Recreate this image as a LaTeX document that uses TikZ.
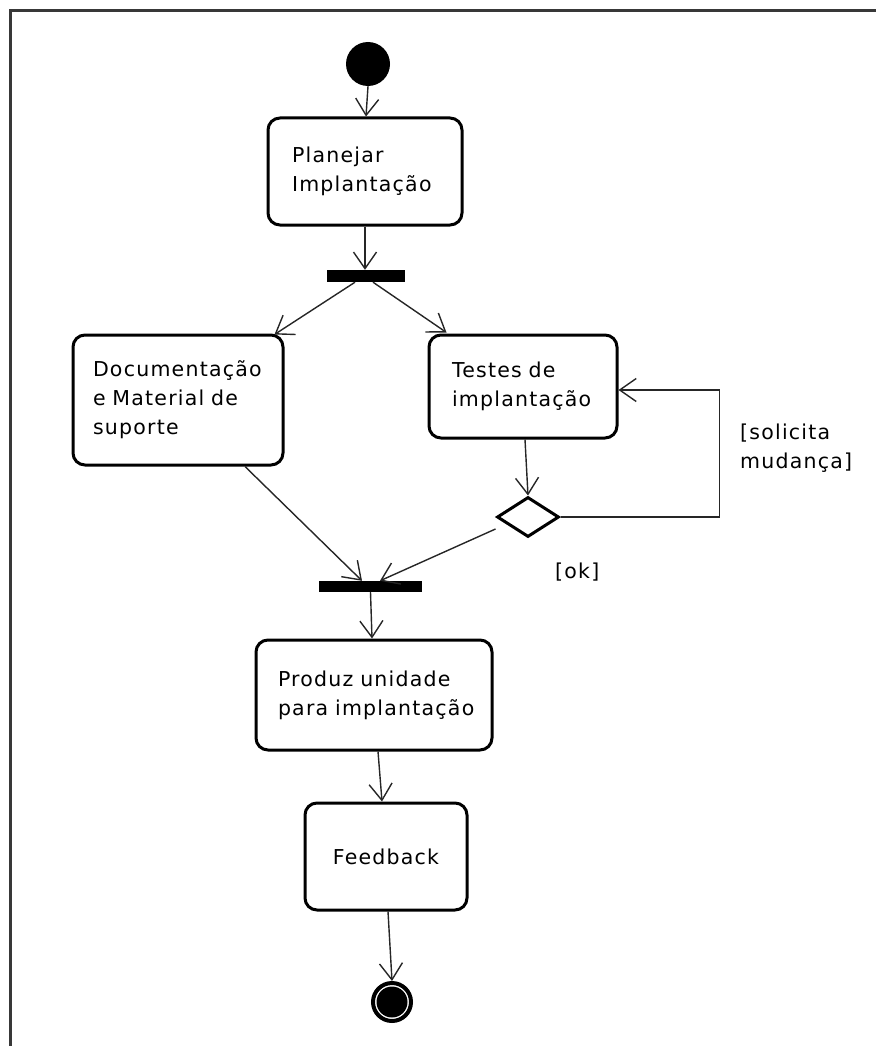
\documentclass[tikz,border=0pt]{standalone}
\usepackage{fontspec}
\setmainfont{DejaVu Sans}[LetterSpace=6]
\usetikzlibrary{arrows.meta,shapes.geometric}
\newcommand{\labelfont}{\fontsize{20.5}{29}\selectfont\hyphenpenalty=10000\exhyphenpenalty=10000\hbadness=10000\hfuzz=40pt}
\begin{document}
\begin{tikzpicture}[x=1pt,y=-1pt,
  activity/.style={draw, line width=3pt, rounded corners=12pt, align=left,
    inner ysep=0pt, font=\labelfont},
  bar/.style={fill=black, draw=none, inner sep=0pt},
  flow/.style={line width=1.4pt, draw=black!85,
    -{Straight Barb[length=16.5pt, width=23pt, line width=1.4pt]}},
  guard/.style={anchor=west, align=left, inner sep=0pt, font=\labelfont}]
  \useasboundingbox (0,0) rectangle (876,1046);
  % frame
  \draw[line width=3pt, black!78] (10,1046) -- (10,11) -- (876,11);

  % nodes
  \node[circle, fill=black, minimum size=44pt, inner sep=0pt] (start) at (368,64) {};
  \node[activity, minimum height=107pt, text width=146pt, inner xsep=24pt] (plan) at (365,171.5)
    {Planejar\\Implantação};
  \node[bar, minimum width=78pt, minimum height=12pt] (fork) at (366,276) {};
  \node[activity, minimum height=130pt, text width=170pt, inner xsep=20pt] (doc) at (178,400)
    {Documentação\\e Material de\\suporte};
  \node[activity, minimum height=103pt, text width=142pt, inner xsep=23pt] (test) at (523,386.5)
    {Testes de\\implantação};
  \node[diamond, draw, line width=3pt, minimum width=62pt, minimum height=40pt, inner sep=0pt] (dec) at (528,517) {};
  \node[bar, minimum width=103pt, minimum height=11pt] (join) at (370.5,586.5) {};
  \node[activity, minimum height=110pt, text width=192pt, inner xsep=22pt] (prod) at (374,695)
    {\mbox{Produz unidade}\\\mbox{para implantação}};
  \node[activity, minimum height=107pt, text width=162pt, inner xsep=0pt, align=center] (feed) at (386,856.5)
    {Feedback};
  \node[circle, draw, line width=4pt, minimum size=38pt, inner sep=0pt] (end) at (392,1002) {};
  \fill (end.center) circle (15.5);

  % guards
  \node[guard] (gchange) at (740,448) {[solicita\\mudança]};
  \node[guard] (gok) at (555,572) {[ok]};

  % connectors
  \draw[flow] (start.south) -- ([xshift=1pt]plan.north);
  \draw[flow] (plan.south) -- (plan.south |- fork.north);
  \draw[flow] ([xshift=-11pt]fork.south) -- ([xshift=-10pt, yshift=-1pt]doc.north east);
  \draw[flow] ([xshift=7pt]fork.south) -- ([xshift=19pt, yshift=1pt]test.north west);
  \draw[flow] ([xshift=2pt]test.south) -- (dec.north);
  \draw[flow] (dec.east) -- ([xshift=159pt]dec.east) |- ([yshift=-3.5pt]test.east);
  \draw[flow] ([xshift=67pt]doc.south) -- ([xshift=-8.5pt]join.north);
  \draw[flow] ([yshift=-12pt]dec.west) -- ([xshift=9.5pt]join.north);
  \draw[flow] (join.south) -- ([xshift=-2pt]prod.north);
  \draw[flow] ([xshift=4pt]prod.south) -- ([xshift=-4pt]feed.north);
  \draw[flow] ([xshift=2pt]feed.south) -- (end.north);
\end{tikzpicture}
\end{document}
